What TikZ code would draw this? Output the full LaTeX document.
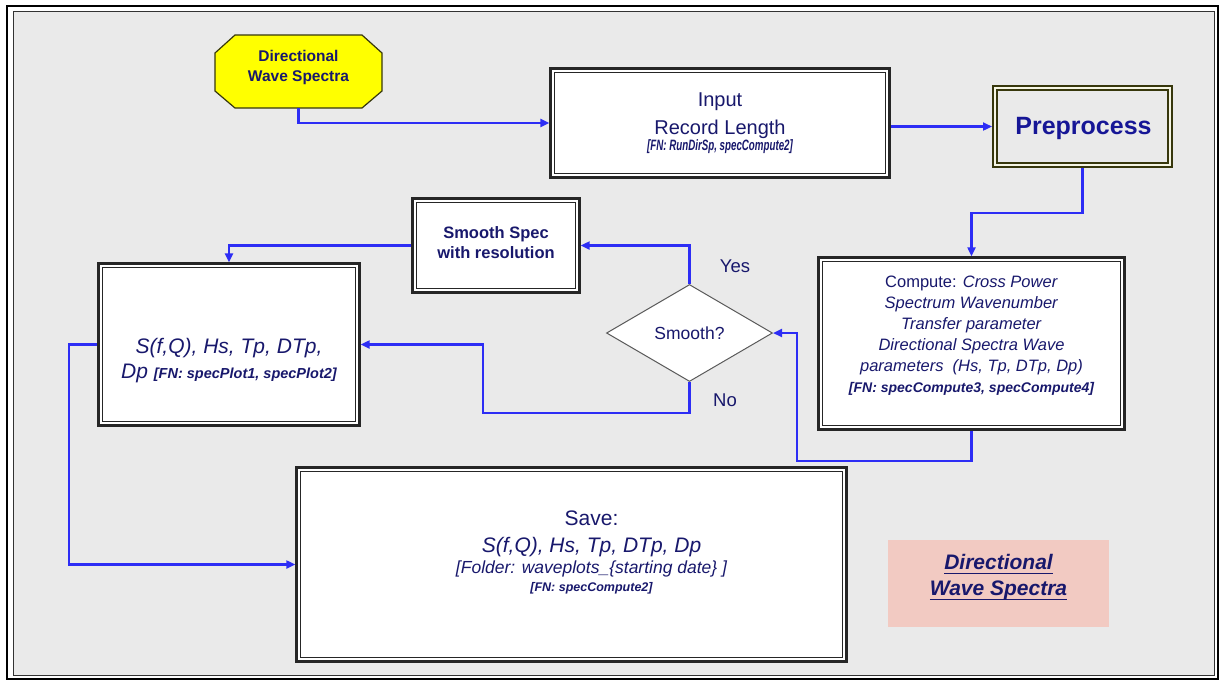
\documentclass[tikz,border=0pt]{standalone}
\usepackage{graphicx}
\usepackage{fontspec}
\setmainfont{Liberation Sans}
\usetikzlibrary{arrows.meta,shapes.geometric}

\definecolor{ink}{RGB}{24,24,108}
\definecolor{inkbright}{RGB}{22,22,150}
\definecolor{flow}{RGB}{45,45,245}
\definecolor{paper}{RGB}{234,234,234}
\definecolor{darkolive}{RGB}{55,55,12}
\definecolor{rose}{RGB}{242,202,194}
\definecolor{sun}{RGB}{255,255,0}

% thick underline used in the legend box
\newcommand{\thickuline}[1]{\leavevmode\setbox0=\hbox{#1}\rlap{\raisebox{-4.5pt}{\rule{\wd0}{1.8pt}}}\box0}
% file-name notes in bold italic
\newcommand{\fnnote}[2]{{\fontsize{#1}{#1}\selectfont\bfseries\itshape #2}}

\begin{document}
\begin{tikzpicture}[x=1pt,y=-1pt,
  dbox/.style={rectangle, fill=white, draw=black!85, line width=1.2pt,
    double=white, double distance=2pt,
    preaction={draw=black!85, line width=7.4pt},
    outer sep=3.7pt, inner sep=0pt},
  txt/.style={text=ink, align=center, inner sep=0pt},
  flowline/.style={draw=flow, line width=2.2pt, -{Triangle[length=9pt,width=8pt]}},
  ]
\useasboundingbox (0,0) rectangle (1225,681);
\fill[white] (0,0) rectangle (1225,681);
% page frame
\fill[paper] (13,11.5) rectangle (1214,675.5);
\draw[line width=1pt, black!80] (13,11.5) rectangle (1214,675.5);
\draw[line width=2.6pt] (7,6) rectangle (1218,679);

% start terminal: an octagon with cut corners
\filldraw[draw=darkolive, fill=sun, line width=1.2pt]
  (235,35) -- (362,35) -- (382,53) -- (382,91) -- (362,108)
  -- (235,108) -- (215,91) -- (215,53) -- cycle;
\node[rectangle, minimum width=167pt, minimum height=73pt, inner sep=0pt] (oct) at (298.5,71.5) {};
\node[txt, font=\fontsize{15.5}{20}\selectfont\bfseries] (octtxt) at ([yshift=4pt]oct.center)
  {Directional\\Wave Spectra};

% process boxes
\node[dbox, minimum width=334pt, minimum height=104pt, txt, font=\fontsize{20}{16.4}\selectfont] (inp) at (720,123)
  {Input\\[8.6pt]Record Length\\\scalebox{0.65}[1]{\fnnote{15}{[FN: RunDirSp, specCompute2]}}};

\node[rectangle, draw=darkolive, line width=2pt, double={rgb,255:red,246;green,246;blue,228}, double distance=2pt,
  minimum width=175pt, minimum height=77pt, outer sep=3pt, inner sep=0pt] (pre) at (1082.5,126.5) {};
\node[text=inkbright, inner sep=0pt, font=\fontsize{25}{30}\selectfont\bfseries] (pretxt) at ([xshift=1pt,yshift=-2pt]pre.center) {Preprocess};

\node[dbox, minimum width=301pt, minimum height=167pt] (comp) at (971.5,343.5) {};
\node[txt, font=\fontsize{16.5}{21}\selectfont] (comptxt) at ([yshift=8pt]comp.center)
  {Compute: \textit{Cross Power}\\
   \textit{Spectrum Wavenumber}\\
   \textit{Transfer parameter}\\
   \textit{Directional Spectra Wave}\\
   \textit{parameters\ \ (Hs, Tp, DTp, Dp)}\\
   \fnnote{14}{[FN: specCompute3, specCompute4]}};

\node[diamond, aspect=1.7, draw=black!65, fill=white, line width=1pt,
  minimum width=166pt, minimum height=97pt, inner sep=0pt,
  text=ink, font=\fontsize{17.5}{20}\selectfont] (dia) at (689.5,333) {Smooth?};

\node[dbox, minimum width=162pt, minimum height=89pt] (sm) at (496,245.5) {};
\node[txt, font=\fontsize{16.5}{20}\selectfont\bfseries] (smtxt) at ([yshift=3pt]sm.center)
  {Smooth Spec\\with resolution};

\node[dbox, minimum width=256pt, minimum height=157pt] (sbox) at (229,344.5) {};
\node[txt, font=\fontsize{21}{25}\selectfont\itshape] (stxt) at ([yshift=-16pt]sbox.center)
  {S(f,Q), Hs, Tp, DTp,\\Dp \fnnote{14.5}{[FN: specPlot1, specPlot2]}};

\node[dbox, minimum width=545pt, minimum height=189pt] (save) at (571.5,564.5) {};
\node[txt, font=\fontsize{21}{18}\selectfont] (savetxt) at ([xshift=20pt,yshift=12pt]save.center)
  {Save:\\[9pt]
   \textit{S(f,Q), Hs, Tp, DTp, Dp}\\[3pt]
   {\fontsize{17.5}{18}\selectfont\itshape [Folder: waveplots\_\{starting date\} ]}\\
   \fnnote{12.5}{[FN: specCompute2]}};

% legend
\node[rectangle, fill=rose, minimum width=221pt, minimum height=87pt, inner sep=0pt] (legend) at (998.5,583.5) {};
\node[txt, font=\fontsize{21}{26}\selectfont\bfseries\itshape] (legendtxt) at ([yshift=6pt]legend.center)
  {\thickuline{Directional}\\\thickuline{Wave Spectra}};

% branch labels
\node[txt, font=\fontsize{18.5}{20}\selectfont] (yes) at (735,266) {Yes};
\node[txt, font=\fontsize{18.5}{20}\selectfont] (no) at (725,400) {No};

% connectors
\draw[flowline] (oct.south) |- (inp.west);
\draw[flowline] (inp.east |- pre.west) -- (pre.west);
\draw[flowline] (pre.south) -- ++(0,45) -| (comp.north);
\draw[flowline] (comp.south) -- ++(0,30) -| ([xshift=24pt]dia.east) -- (dia.east);
\draw[flowline] (dia.north) |- (sm.east);
\draw[flowline] (dia.south) -- ++(0,31) -| ([xshift=122pt]sbox.east) -- (sbox.east);
\draw[flowline] (sm.west) -| (sbox.north);
\draw[flowline] (sbox.west) -- ++(-28,0) |- (save.west);
\end{tikzpicture}
\end{document}
